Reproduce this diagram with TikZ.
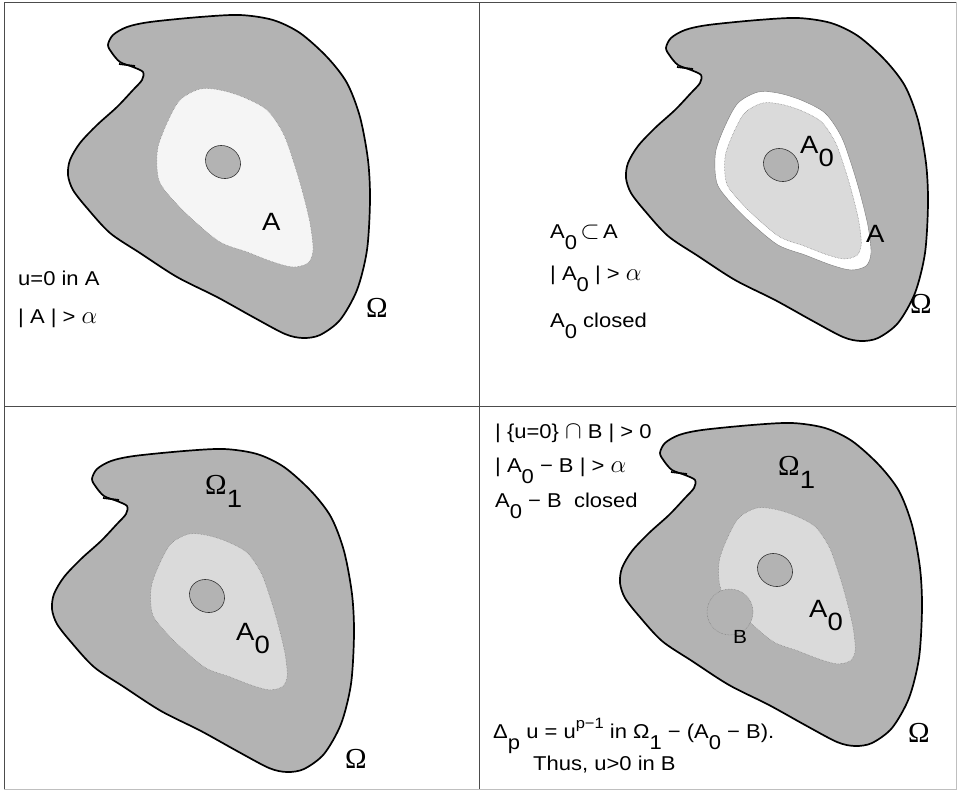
\documentclass[tikz,border=0pt]{standalone}
\usepackage{fontspec}
\setmainfont{Liberation Sans}[FakeStretch=1.1]
\newfontfamily\serifom{Liberation Serif}
\definecolor{blobgray}{RGB}{179,179,179}
\definecolor{agray}{RGB}{245,245,245}
\definecolor{azgray}{RGB}{218,218,218}
\definecolor{rimgray}{RGB}{120,120,120}
\newcommand{\lo}[1]{\raisebox{-0.55em}{#1}}
\newcommand{\omfont}{\serifom\fontsize{29}{32}\selectfont}
\newcommand{\symb}[1]{{\fontsize{25}{25}\selectfont$#1$}}
\newcommand{\blobshape}{plot[smooth cycle] coordinates {(143,72) (142,80) (133,90) (117,107) (97,125) (80,143) (70,160) (68,175) (73,190) (87,208) (110,233) (140,253) (177,277) (217,297) (253,317) (285,334) (303,338) (320,335) (340,320) (357,290) (367,250) (370,200) (368,160) (360,117) (347,83) (327,57) (300,33) (273,20) (240,15) (200,17) (150,22) (127,27) (113,35) (108,45) (112,53) (120,62) (133,67)}}
\newcommand{\setshape}{plot[smooth cycle] coordinates {(200,89) (220,90) (243,97) (267,110) (283,133) (293,160) (302,190) (310,223) (313,250) (308,263) (293,267) (273,262) (247,252) (220,242) (193,220) (173,200) (160,183) (157,167) (158,147) (167,123) (180,100)}}
\begin{document}
\begin{tikzpicture}[x=1pt, y=-1pt,
  blobline/.style={line width=1.7pt, fill=blobgray},
  setline/.style={draw=rimgray, line width=0.5pt, densely dotted},
  holeline/.style={draw=black!80, line width=0.6pt, fill=blobgray},
  shrink/.style={shift={(235,178)}, scale=0.875, shift={(-235,-178)}},
  frameline/.style={draw=black!70, line width=1pt},
  txt/.style={anchor=base west, inner sep=0pt, font=\fontsize{20}{24}\selectfont},
  biglab/.style={anchor=base west, inner sep=0pt, font=\fontsize{25}{29}\selectfont},
  omlab/.style={anchor=base west, inner sep=0pt, font=\omfont}]
\useasboundingbox (0,0) rectangle (958,790);
\draw[frameline] (956,2) -- (4,2) -- (4,789);
\draw[draw=black!25, line width=1pt] (4,789) -- (956,789) -- (956,2);
\draw[frameline] (479,2) -- (479,789);
\draw[frameline] (4,406) -- (956,406);

\begin{scope}
\draw[blobline] \blobshape;
\draw[line width=1.7pt] (119,64) -- (135,66);
\fill[agray] \setshape;
\draw[setline] \setshape;
\draw[holeline] (223,162) circle [x radius=18pt, y radius=16pt, rotate=-30];
\end{scope}
\node (la) [biglab] at (262,230) {A};
\node (uzero) [txt] at (18,285) {u=0 in A};
\node (measa) [txt] at (18,323) {| A | > \symb{\alpha}};
\node (om1) [omlab] at (366,317) {Ω};

\begin{scope}[shift={(558,3)}]
\draw[blobline] \blobshape;
\draw[line width=1.7pt] (119,64) -- (135,66);
\fill[white] \setshape;
\draw[draw=rimgray, line width=0.4pt] \setshape;
\fill[azgray, shrink] \setshape;
\draw[setline, shrink] \setshape;
\draw[holeline] (223,162) circle [x radius=18pt, y radius=16pt, rotate=-30];
\end{scope}
\node (lazero) [biglab] at (800,153) {A\lo{0}};
\node (lab) [biglab] at (866,242) {A};
\node (om2) [omlab] at (910,313) {Ω};
\node (sub) [txt] at (550,238) {A\lo{0}\,\symb{\subset}\,A};
\node (measaz) [txt] at (550,280) {| A\lo{0} | > \symb{\alpha}};
\node (closed) [txt] at (550,327) {A\lo{0} closed};

\begin{scope}[shift={(-16,434)}]
\draw[blobline] \blobshape;
\draw[line width=1.7pt] (119,64) -- (135,66);
\fill[azgray, shrink] \setshape;
\draw[setline, shrink] \setshape;
\draw[holeline] (223,162) circle [x radius=18pt, y radius=16pt, rotate=-30];
\end{scope}
\node (omone) [biglab] at (205,494) {{\omfont Ω}\lo{1}};
\node (lazc) [biglab] at (236,640) {A\lo{0}};
\node (om3) [omlab] at (345,768) {Ω};

\begin{scope}[shift={(552,408)}]
\draw[blobline] \blobshape;
\draw[line width=1.7pt] (119,64) -- (135,66);
\fill[azgray, shrink] \setshape;
\draw[setline, shrink] \setshape;
\draw[holeline] (223,162) circle [x radius=18pt, y radius=16pt, rotate=-30];
\draw[setline, fill=blobgray] (178,204) circle [radius=23pt];
\end{scope}
\node (omoned) [biglab] at (778,475) {{\omfont Ω}\lo{1}};
\node (lazd) [biglab] at (809,617) {A\lo{0}};
\node (lb) [txt, font=\fontsize{19}{22}\selectfont] at (733,643) {B};
\node (om4) [omlab] at (908,742) {Ω};
\node (zeroset) [txt] at (495,438) {| \{u=0\} \symb{\cap} B | > 0};
\node (measdiff) [txt] at (495,472) {| A\lo{0} − B | > \symb{\alpha}};
\node (diffclosed) [txt] at (495,507) {A\lo{0} − B\ \ closed};
\node (eqn) [txt] at (493,738) {Δ\lo{p} u = u\raisebox{0.5em}{\fontsize{15}{15}\selectfont p−1} in Ω\lo{1} − (A\lo{0} − B).};
\node (thus) [txt] at (533,770) {Thus, u>0 in B};
\end{tikzpicture}
\end{document}
